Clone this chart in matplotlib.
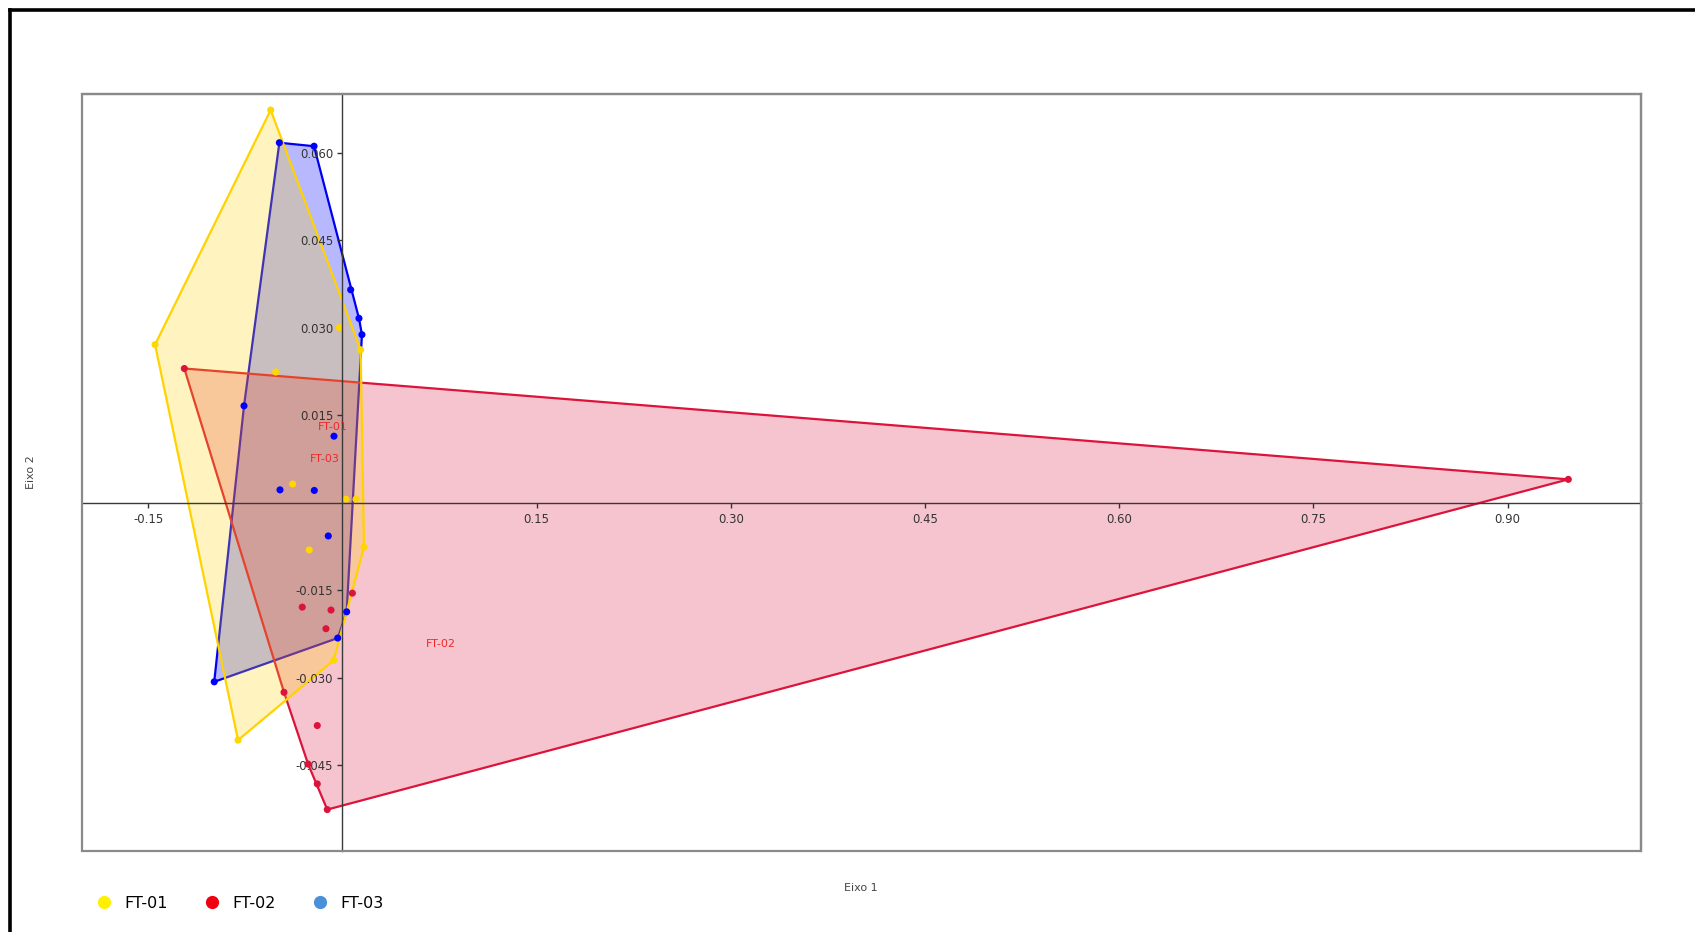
import numpy as np
import matplotlib
matplotlib.use("Agg")
import matplotlib.pyplot as plt
from matplotlib.patches import Polygon, Rectangle
from matplotlib.lines import Line2D

# Scores on the first two axes, per group
ft01_x = [-0.0554, -0.1447, 0.0141, -0.0515, -0.0384, 0.0028, 0.0105,
          -0.0256, 0.0167, -0.0067, -0.0806, -0.0024]
ft01_y = [0.0673, 0.0271, 0.0262, 0.0224, 0.0032, 0.0006, 0.0006,
          -0.0081, -0.0076, -0.0270, -0.0407, 0.0300]

ft02_x = [-0.1221, 0.9469, 0.0077, -0.0310, -0.0088, -0.0127, -0.0451,
          -0.0194, -0.0265, -0.0194, -0.0117]
ft02_y = [0.0230, 0.0040, -0.0155, -0.0179, -0.0184, -0.0216, -0.0325,
          -0.0382, -0.0448, -0.0482, -0.0526]

ft03_x = [-0.0487, -0.0219, 0.0064, 0.0128, 0.0151, -0.0760, -0.0065,
          -0.0482, -0.0217, -0.0109, 0.0033, -0.0036, -0.0990]
ft03_y = [0.0617, 0.0611, 0.0365, 0.0316, 0.0288, 0.0166, 0.0114,
          0.0022, 0.0021, -0.0057, -0.0187, -0.0232, -0.0307]

group_names = ["FT-01", "FT-02", "FT-03"]
label_x = [-0.0075, 0.0762, -0.0134]
label_y = [0.0129, -0.0242, 0.0075]

x_ticks = [-0.15, 0.15, 0.30, 0.45, 0.60, 0.75, 0.90]
y_ticks = [0.060, 0.045, 0.030, 0.015, -0.015, -0.030, -0.045]


def convex_hull(xs, ys):
    pts = sorted(set(zip(xs, ys)))

    def cross(o, a, b):
        return (a[0] - o[0]) * (b[1] - o[1]) - (a[1] - o[1]) * (b[0] - o[0])

    lower, upper = [], []
    for p in pts:
        while len(lower) >= 2 and cross(lower[-2], lower[-1], p) <= 0:
            lower.pop()
        lower.append(p)
    for p in reversed(pts):
        while len(upper) >= 2 and cross(upper[-2], upper[-1], p) <= 0:
            upper.pop()
        upper.append(p)
    return np.array(lower[:-1] + upper[:-1])


W, H = 1695, 932
fig = plt.figure(figsize=(W / 100, H / 100), dpi=100)
ax = fig.add_axes([82.3 / W, 1 - 851 / H, (1640.7 - 82.3) / W, (851 - 94.3) / H])
ax.set_xlim(-0.2009, 1.0028)
ax.set_ylim(-0.0597, 0.0700)

groups = {
    "FT-03": (ft03_x, ft03_y, "#0000F0", "#0000FF", 0.28, "#0000FF"),
    "FT-02": (ft02_x, ft02_y, "#DC143C", "#DC143C", 0.25, "#DC143C"),
    "FT-01": (ft01_x, ft01_y, "#FFD200", "#FFD200", 0.25, "#FFD700"),
}

# hulls: blue first, then red, then yellow on top
for name in ["FT-03", "FT-02", "FT-01"]:
    xs, ys, edge, fill, alpha, _ = groups[name]
    hull = convex_hull(xs, ys)
    ax.add_patch(Polygon(hull, closed=True, facecolor=fill, alpha=alpha,
                         edgecolor="none", zorder=1))
    ax.add_patch(Polygon(hull, closed=True, facecolor="none",
                         edgecolor=edge, linewidth=1.6, zorder=1))

for name in ["FT-03", "FT-02", "FT-01"]:
    xs, ys, _, _, _, pc = groups[name]
    ax.scatter(xs, ys, s=26, color=pc, edgecolors="none", zorder=2.2)

for name, lx, ly in zip(group_names, label_x, label_y):
    ax.text(lx, ly, name, color="#F02828", fontsize=8, ha="center",
            va="center", zorder=4)

# axes cross through the origin
for side in ["left", "bottom"]:
    ax.spines[side].set_position(("data", 0))
    ax.spines[side].set_color("#3a3a3a")
    ax.spines[side].set_linewidth(1.0)
for side in ["top", "right"]:
    ax.spines[side].set_color("#8a8a8a")
    ax.spines[side].set_linewidth(1.6)
ax.add_patch(Rectangle((0, 0), 1, 1, transform=ax.transAxes, fill=False,
                       edgecolor="#8a8a8a", linewidth=1.6, zorder=5,
                       clip_on=False))

ax.set_xticks(x_ticks)
ax.set_xticklabels([f"{v:.2f}" for v in x_ticks])
ax.set_yticks(y_ticks)
ax.set_yticklabels([f"{v:.3f}" for v in y_ticks])
ax.tick_params(axis="both", labelsize=8.4, colors="#333333", length=3.5,
               width=1.0, direction="out", pad=3)
ax.tick_params(axis="x", pad=4)

fig.text(861 / W, 1 - 888 / H, "Eixo 1", ha="center", va="center",
         fontsize=8, color="#444444")
fig.text(31 / W, 1 - 472 / H, "Eixo 2", ha="center", va="center",
         fontsize=8, color="#444444", rotation=90)

# legend below the plot
handles = [
    Line2D([], [], linestyle="none", marker="o", markersize=9.5,
           markerfacecolor="#FFF000", markeredgecolor="none"),
    Line2D([], [], linestyle="none", marker="o", markersize=9.5,
           markerfacecolor="#F00010", markeredgecolor="none"),
    Line2D([], [], linestyle="none", marker="o", markersize=9.5,
           markerfacecolor="#4A90D9", markeredgecolor="none"),
]
fig.legend(handles, group_names, loc="center left",
           bbox_to_anchor=(96 / W, 1 - 903 / H), ncol=3, frameon=False,
           fontsize=11.5, handlelength=1.0, handletextpad=0.75,
           columnspacing=2.3, borderpad=0, borderaxespad=0)

# outer black border (left and top)
fig.add_artist(Line2D([10 / W, 10 / W], [0, 1 - 10 / H], color="black",
                      linewidth=2.6, transform=fig.transFigure,
                      solid_capstyle="projecting"))
fig.add_artist(Line2D([10 / W, 1], [1 - 10 / H, 1 - 10 / H], color="black",
                      linewidth=2.6, transform=fig.transFigure,
                      solid_capstyle="projecting"))

fig.savefig("out.png", dpi=100, facecolor="white")
